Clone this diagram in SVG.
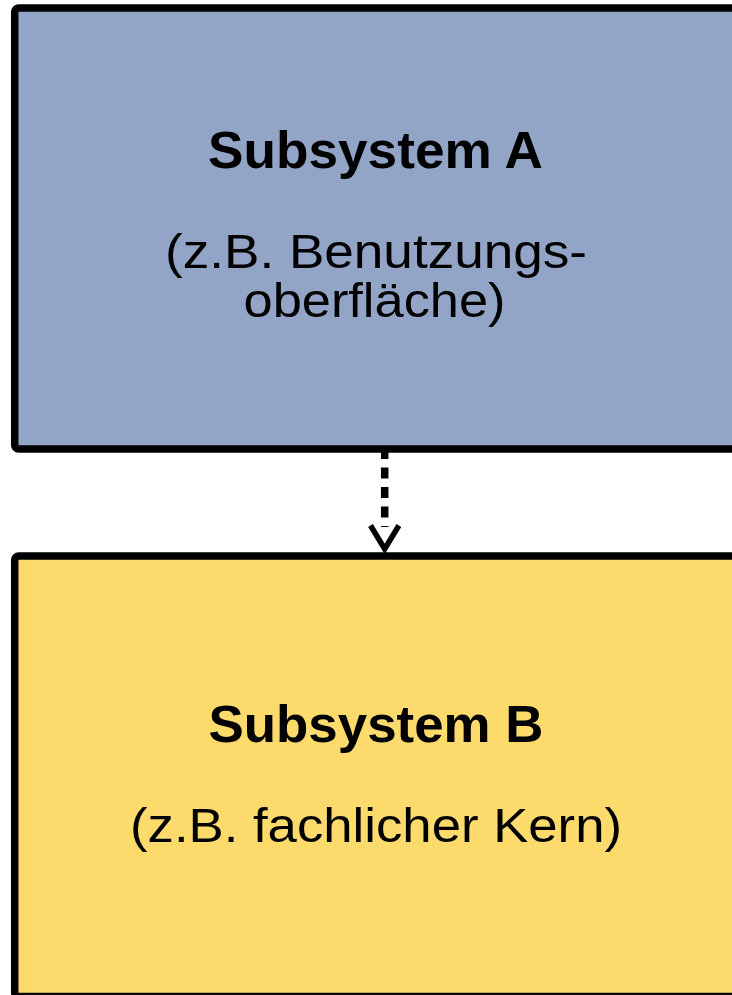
<svg xmlns="http://www.w3.org/2000/svg" width="732" height="995" viewBox="0 0 732 995">
<style>
.box{stroke:#000;stroke-width:7.5;stroke-linejoin:round}
.a{fill:#92A5C6}
.b{fill:#FCDB6C}
.t{font-family:"Liberation Sans",Arial,Helvetica,sans-serif;text-anchor:middle;fill:#000}
.title{font-size:52px;font-weight:bold}
.sub{font-size:48px}
.dash{stroke:#000;stroke-width:7.5;stroke-dasharray:11 8.5;fill:none}
.head{stroke:#000;stroke-width:5.5;fill:none;stroke-linejoin:miter;stroke-miterlimit:10}
</style>
<rect width="732" height="995" fill="#fff"/>
<g id="subsystemA">
<rect class="box a" x="14.7" y="8" width="800" height="441" rx="4"/>
<text class="t title" x="375.5" y="168" textLength="335" lengthAdjust="spacingAndGlyphs">Subsystem A</text>
<text class="t sub" x="376" y="268" textLength="422" lengthAdjust="spacingAndGlyphs">(z.B. Benutzungs-</text>
<text class="t sub" x="374.5" y="316.5" textLength="262" lengthAdjust="spacingAndGlyphs">oberfläche)</text>
</g>
<g id="subsystemB">
<rect class="box b" x="14.7" y="556" width="800" height="440.5" rx="4"/>
<text class="t title" x="376" y="742" textLength="335" lengthAdjust="spacingAndGlyphs">Subsystem B</text>
<text class="t sub" x="376" y="842" textLength="492" lengthAdjust="spacingAndGlyphs">(z.B. fachlicher Kern)</text>
</g>
<g id="connectors">
<line class="dash" x1="384.7" y1="448" x2="384.7" y2="527"/>
<polyline class="head" points="370.5,525.5 384.7,549 398.9,525.5"/>
</g>
</svg>
